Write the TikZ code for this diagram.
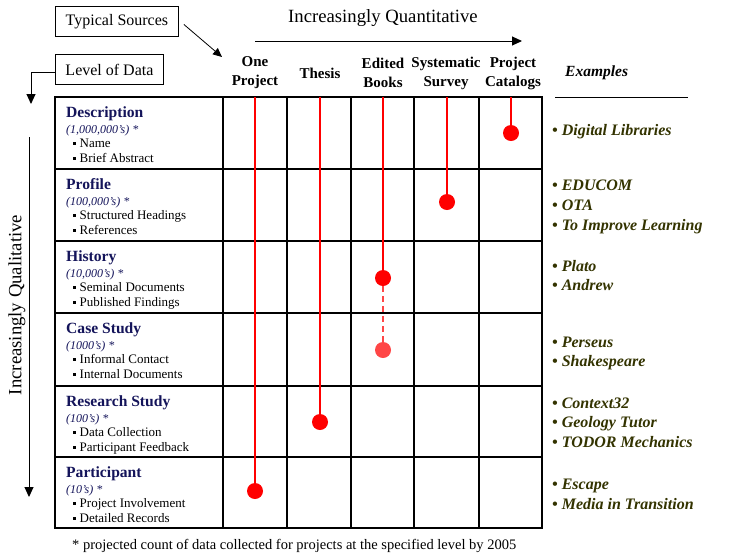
\documentclass[tikz,border=0pt]{standalone}
\usepackage{fontspec}
\setmainfont{Liberation Serif}
\usetikzlibrary{arrows.meta}
\definecolor{navy}{RGB}{20,20,90}
\definecolor{olive}{RGB}{51,51,0}
\definecolor{lightred}{RGB}{255,70,70}
\newcommand{\sqbul}{\rule[0.2em]{3pt}{3pt}\hspace{3.5pt}}
\begin{document}
\begin{tikzpicture}[x=1pt,y=-1pt,
  gridline/.style={line width=1.5pt},
  redline/.style={draw=red, line width=1.6pt},
  dotnode/.style={circle, fill=red, inner sep=0pt, minimum size=16pt},
  lightdot/.style={circle, fill=lightred, inner sep=0pt, minimum size=16pt},
  labelbox/.style={draw, line width=0.9pt, inner sep=0pt, minimum height=30pt, font=\fontsize{16}{18}\selectfont},
  colhead/.style={font=\fontsize{15}{19}\selectfont\bfseries, align=center, inner sep=0pt},
  rowtitle/.style={anchor=base west, inner sep=0pt, text=navy, font=\fontsize{15.6}{18}\selectfont\bfseries},
  rowcount/.style={anchor=base west, inner sep=0pt, text=navy, font=\fontsize{12}{14}\selectfont\itshape},
  rowitem/.style={anchor=base west, inner sep=0pt, font=\fontsize{13}{14}\selectfont},
  example/.style={anchor=base west, inner sep=0pt, text=olive, font=\fontsize{16}{18}\selectfont\bfseries\itshape},
  arr/.style={-{Triangle[length=10pt,width=9pt]}, line width=1pt},
  thinarr/.style={-{Triangle[length=9pt,width=8pt]}, line width=0.8pt}
]
\useasboundingbox (0,0) rectangle (739,558);

% top-left boxes
\node[labelbox, minimum width=123pt, anchor=north west] (src) at (55,6) {Typical Sources};
\node[labelbox, minimum width=108pt, anchor=north west] (lvl) at (55,54) {Level of Data};
\coordinate (srcTip) at (222,57);
\coordinate (lvlTip) at (31,104);
\draw[thinarr] ([xshift=5pt,yshift=-3pt]src.east) -- (srcTip);
\draw[arr] ([yshift=-3pt]lvl.west) -| (lvlTip);

% axis titles
\node[inner sep=0pt, font=\fontsize{18.7}{20}\selectfont] (quant) at (383,18) {Increasingly Quantitative};
\coordinate (qs) at (255,41);
\coordinate (qe) at (522,41);
\draw[arr] (qs) -- (qe);
\node[inner sep=0pt, rotate=90, font=\fontsize{18.7}{20}\selectfont] (qual) at (17,305) {Increasingly Qualitative};
\coordinate (vs) at (29,137);
\coordinate (ve) at (29,497);
\draw[arr] (vs) -- (ve);

% column headers
\node[colhead] (h1) at (255,73) {One\\Project};
\node[colhead] (h2) at (320,73) {Thesis};
\node[colhead] (h3) at (383,73) {Edited\\Books};
\node[colhead] (h4) at (446,73) {Systematic\\Survey};
\node[colhead] (h5) at (513,73) {Project\\Catalogs};
\node[anchor=west, inner sep=0pt, font=\fontsize{15.5}{18}\selectfont\bfseries\itshape] (exh) at (565,73) {Examples};
\coordinate (exl) at (555,97);
\coordinate (exr) at (688,97);
\draw[line width=1pt] (exl) -- (exr);

% grid
\draw[gridline] (55,97) rectangle (542,528);
\foreach \yy in {169,241,313,386,457} \draw[gridline] (55,\yy) -- (542,\yy);
\foreach \xx in {223,287,351,414,479} \draw[gridline] (\xx,97) -- (\xx,528);

% row labels
\foreach \yy/\ttl/\cnt/\ia/\ib [count=\i] in {
  97/Description/{(1,000,000's) *}/Name/Brief Abstract,
  169/Profile/{(100,000's) *}/Structured Headings/References,
  241/History/{(10,000's) *}/Seminal Documents/Published Findings,
  313/Case Study/{(1000's) *}/Informal Contact/Internal Documents,
  386/Research Study/{(100's) *}/Data Collection/Participant Feedback,
  457/Participant/{(10's) *}/Project Involvement/Detailed Records}{
  \node[rowtitle] (t\i) at (66,\yy+20) {\ttl};
  \node[rowcount] (n\i) at (66,\yy+36) {\cnt};
  \node[rowitem] (a\i) at (73,\yy+50.5) {\sqbul\ia};
  \node[rowitem] (b\i) at (73,\yy+65.5) {\sqbul\ib};
}

% red lines and dots
\coordinate (c1) at (255,97);
\coordinate (c2) at (320,97);
\coordinate (c3) at (383,97);
\coordinate (c4) at (447,97);
\coordinate (c5) at (511,97);
\node[dotnode] (d1) at (255,491) {};
\node[dotnode] (d2) at (320,422) {};
\node[dotnode] (d3) at (383,278) {};
\node[dotnode] (d4) at (447,202) {};
\node[dotnode] (d5) at (511,133) {};
\node[lightdot] (d3b) at (383,350) {};
\draw[redline] (c1) -- (d1);
\draw[redline] (c2) -- (d2);
\draw[redline] (c3) -- (d3);
\draw[redline] (c4) -- (d4);
\draw[redline] (c5) -- (d5);
\draw[draw=lightred, line width=1.6pt, dash pattern=on 6pt off 4pt] (d3) -- (d3b);

% examples
\node[example] (e1) at (552,135) {• Digital Libraries};
\node[example] (e2) at (552,190) {• EDUCOM};
\node[example] (e3) at (552,210) {• OTA};
\node[example] (e4) at (552,230) {• To Improve Learning};
\node[example] (e5) at (552,271) {• Plato};
\node[example] (e6) at (552,290) {• Andrew};
\node[example] (e7) at (552,347) {• Perseus};
\node[example] (e8) at (552,366) {• Shakespeare};
\node[example] (e9) at (552,408) {• Context32};
\node[example] (e10) at (552,427) {• Geology Tutor};
\node[example] (e11) at (552,447) {• TODOR Mechanics};
\node[example] (e12) at (552,489) {• Escape};
\node[example] (e13) at (552,509) {• Media in Transition};

% footnote
\node[anchor=base west, inner sep=0pt, font=\fontsize{14.5}{16}\selectfont] (foot) at (72,549) {* projected count of data collected for projects at the specified level by 2005};
\end{tikzpicture}
\end{document}
